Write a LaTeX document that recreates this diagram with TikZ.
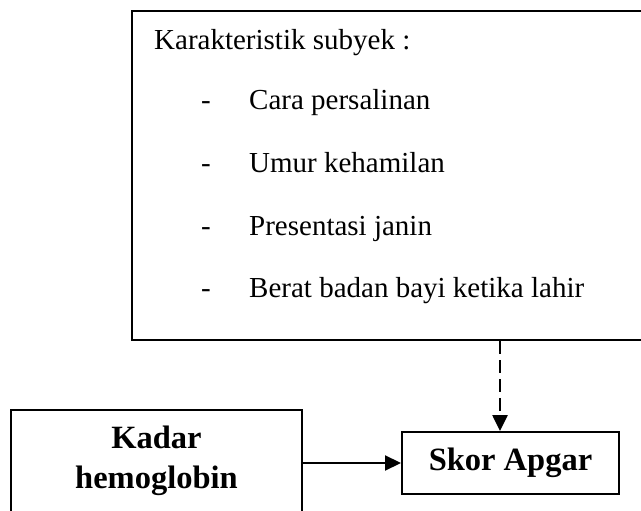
\documentclass[tikz,border=0pt]{standalone}
\usepackage{fontspec}
\setmainfont{Liberation Serif}
\usetikzlibrary{arrows.meta}
\tikzset{
  boxstyle/.style={draw, line width=2pt, inner sep=0pt},
  regtext/.style={anchor=base west, inner sep=0pt, font=\fontsize{29}{34}\selectfont},
  boldtext/.style={font=\fontsize{32.5}{38}\selectfont\bfseries, align=center},
  conn/.style={line width=2.2pt, -{Triangle[length=16pt,width=15pt]}},
}
\begin{document}
\begin{tikzpicture}[x=1pt,y=-1pt]
\useasboundingbox (0,0) rectangle (641,511);
\clip (0,0) rectangle (641,511);
% top box
\node (top) [boxstyle, minimum width=518pt, minimum height=329pt] at (391,175.5) {};
\node (kt) [regtext] at (154,50) {Karakteristik subyek :};
\node (d1) [regtext] at (201,110) {-};
\node (d2) [regtext] at (201,172) {-};
\node (d3) [regtext] at (201,235) {-};
\node (d4) [regtext] at (201,297) {-};
\node (i1) [regtext] at (249,110) {Cara persalinan};
\node (i2) [regtext] at (249,172) {Umur kehamilan};
\node (i3) [regtext] at (249,235) {Presentasi janin};
\node (i4) [regtext] at (249,297) {Berat badan bayi ketika lahir};
% bottom boxes
\node (kadar) [boxstyle, boldtext, minimum width=291pt, minimum height=102pt] at (156.5,461) {Kadar\\[2pt]hemoglobin};
\node (skor) [boxstyle, boldtext, minimum width=217pt, minimum height=62pt] at (510.5,463) {Skor Apgar};
% connectors
\coordinate (dx) at (500,0);
\draw[conn, dash pattern=on 13pt off 6pt, line width=2.6pt] (top.south -| dx) -- (skor.north -| dx);
\draw[conn] (skor.west -| kadar.east) -- (skor.west);
\end{tikzpicture}
\end{document}
